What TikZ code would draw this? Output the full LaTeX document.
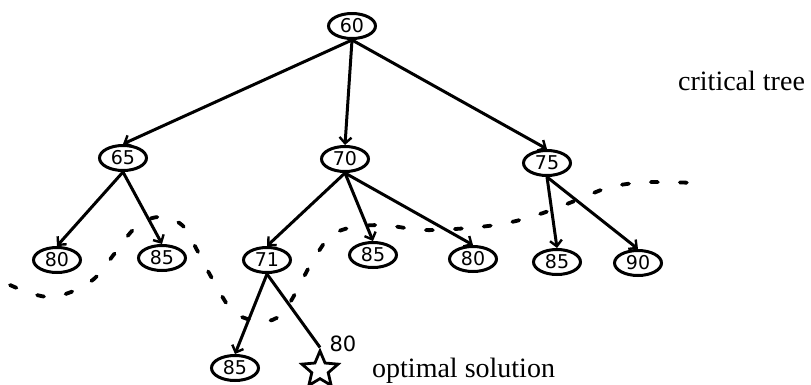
\documentclass[tikz,border=0pt]{standalone}
\usepackage{fontspec}
\setmainfont{Liberation Serif}
\newfontfamily\digitfont{DejaVu Sans}
\usetikzlibrary{arrows.meta,shapes.geometric}
\begin{document}
\begin{tikzpicture}[x=1pt,y=-1pt,
  key/.style={ellipse, draw, line width=3pt, minimum width=47pt, minimum height=25pt,
              inner sep=0pt, font=\digitfont\fontsize{19}{19}\selectfont},
  edge/.style={line width=3pt, -{Straight Barb[length=6pt,width=12pt,line width=2.4pt]}},
  goal/.style={star, star points=5, star point ratio=2.2, draw, line width=2.8pt,
               minimum size=38pt, inner sep=0pt},
  caption/.style={font=\fontsize{28}{30}\selectfont, anchor=base west, inner sep=0pt},
  cut/.style={line width=3.8pt, dash pattern=on 7pt off 22pt, line cap=round}
]
\useasboundingbox (0,0) rectangle (811,384);

% tree nodes
\node[key] (n60) at (352,26) {60};
\node[key] (n65) at (123,158) {65};
\node[key] (n70) at (345,159) {70};
\node[key] (n75) at (547,163) {75};
\node[key] (n80a) at (57,260) {80};
\node[key] (n85a) at (162,258) {85};
\node[key] (n71) at (267,260) {71};
\node[key] (n85b) at (373,255) {85};
\node[key] (n80b) at (473,259) {80};
\node[key] (n85c) at (557,262) {85};
\node[key] (n90) at (638,263) {90};
\node[key] (n85d) at (235,368) {85};
\node[goal] (opt) at (320,370) {};
\node[font=\digitfont\fontsize{21}{21}\selectfont, inner sep=0pt] (optval) at (343,344) {80};

% edges
\draw[edge] (n60.south) -- (n65.north);
\draw[edge] (n60.south) -- (n70.north);
\draw[edge] (n60.south) -- (n75.north);
\draw[edge] (n65.south) -- (n80a.north);
\draw[edge] (n65.south) -- (n85a.north);
\draw[edge] (n70.south) -- (n71.north);
\draw[edge] (n70.south) -- (n85b.north);
\draw[edge] (n70.south) -- (n80b.north);
\draw[edge] (n75.south) -- (n85c.north);
\draw[edge] (n75.south) -- (n90.north);
\draw[edge] (n71.south) -- (n85d.north);
\draw[line width=3pt] (n71.south) -- (opt.north);

% boundary of the critical tree
\draw[cut] plot[smooth, tension=0.6] coordinates {
  (10,285) (50,297) (90,282) (115,253) (135,228) (158,217) (182,225) (197,250)
  (213,280) (235,313) (267,321) (287,307) (315,257) (337,232) (378,225) (423,230)
  (468,228) (507,223) (543,213) (577,200) (607,188) (635,183) (662,182) (695,183)};

% labels
\node[caption] (lblcrit) at (678,90) {critical tree};
\node[caption] (lblopt) at (372,377) {optimal solution};
\end{tikzpicture}
\end{document}
